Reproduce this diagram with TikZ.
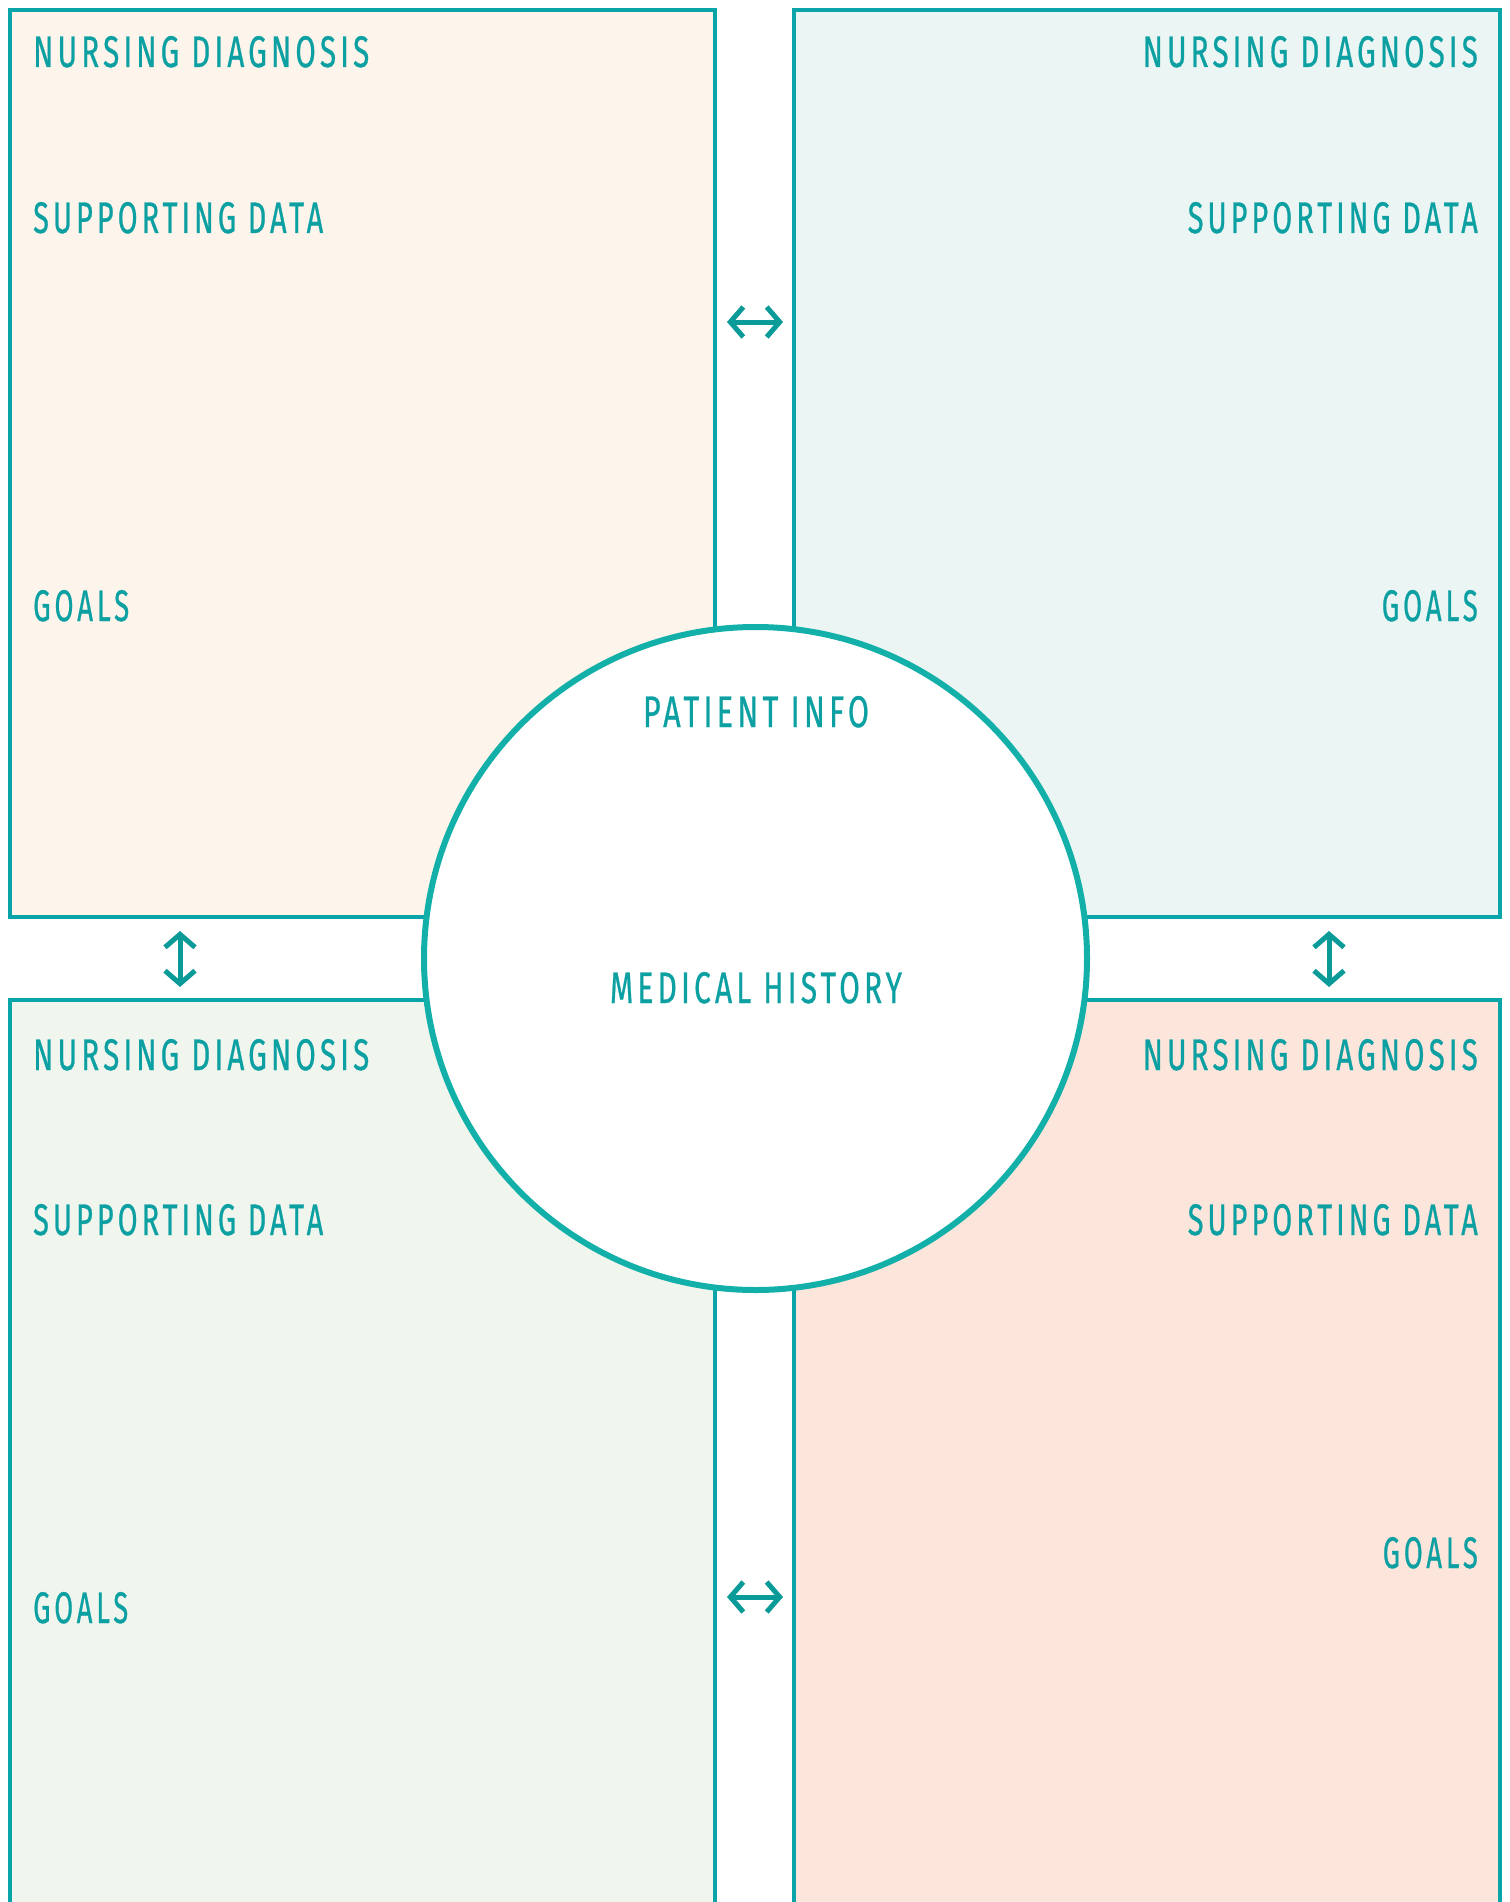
\documentclass[tikz,border=0pt]{standalone}
\usepackage{fontspec}
\usepackage{graphicx}
\usetikzlibrary{arrows.meta}
\newfontfamily\lblfont[LetterSpace=14,FakeBold=0.8]{Fira Sans}
\definecolor{tealline}{HTML}{0AA5A8}
\definecolor{tealcirc}{HTML}{12B0A9}
\definecolor{tealtext}{HTML}{0CA0A2}
\definecolor{tealarrow}{HTML}{0A9A98}
\definecolor{fillA}{HTML}{FDF5EB}
\definecolor{fillB}{HTML}{EBF5F3}
\definecolor{fillC}{HTML}{F0F5EE}
\definecolor{fillD}{HTML}{FCE6DC}
\newcommand\lab[2]{\resizebox{#1pt}{31pt}{\lblfont #2}}
\tikzset{
  panel/.style={draw=tealline, line width=4pt},
  lbl/.style={inner sep=0pt, text=tealtext},
  linker/.style={draw=tealarrow, line width=5pt, {Straight Barb[length=13pt,width=30pt,line width=5pt]}-{Straight Barb[length=13pt,width=30pt,line width=5pt]}}
}
\begin{document}
\begin{tikzpicture}[x=1pt,y=-1pt]
\useasboundingbox (0,0) rectangle (1509,1902);
\fill[white] (0,0) rectangle (1509,1902);
\begin{scope}
\clip (0,0) rectangle (1509,1902);
\draw[panel, fill=fillA] (10,10) rectangle (715,917);
\draw[panel, fill=fillB] (794,10) rectangle (1500,917);
\draw[panel, fill=fillC] (10,1000) rectangle (715,1960);
\draw[panel, fill=fillD] (794,1000) rectangle (1500,1960);
\end{scope}
\node[circle, draw=tealcirc, fill=white, line width=6pt, minimum size=663pt, inner sep=0pt] (center) at (755.5,958.5) {};

% top-left
\node[lbl, anchor=base west] (tlnd) at (33,67) {\lab{336}{NURSING DIAGNOSIS}};
\node[lbl, anchor=base west] (tlsd) at (33,233) {\lab{290}{SUPPORTING DATA}};
\node[lbl, anchor=base west] (tlg) at (33,621) {\lab{96}{GOALS}};
% top-right
\node[lbl, anchor=base east] (trnd) at (1478,67) {\lab{335}{NURSING DIAGNOSIS}};
\node[lbl, anchor=base east] (trsd) at (1478,233) {\lab{290}{SUPPORTING DATA}};
\node[lbl, anchor=base east] (trg) at (1478,621) {\lab{96}{GOALS}};
% bottom-left
\node[lbl, anchor=base west] (blnd) at (33,1070) {\lab{336}{NURSING DIAGNOSIS}};
\node[lbl, anchor=base west] (blsd) at (33,1235) {\lab{290}{SUPPORTING DATA}};
\node[lbl, anchor=base west] (blg) at (33,1623) {\lab{95}{GOALS}};
% bottom-right
\node[lbl, anchor=base east] (brnd) at (1478,1070) {\lab{335}{NURSING DIAGNOSIS}};
\node[lbl, anchor=base east] (brsd) at (1478,1235) {\lab{290}{SUPPORTING DATA}};
\node[lbl, anchor=base east] (brg) at (1478,1568) {\lab{95}{GOALS}};
% centre
\node[lbl, anchor=base] (pinfo) at (756,727) {\lab{226}{PATIENT INFO}};
\node[lbl, anchor=base] (mhist) at (756,1003) {\lab{292}{MEDICAL HISTORY}};

% arrows
\coordinate (a1s) at (727,322); \coordinate (a1e) at (783,322);
\coordinate (a2s) at (727,1597); \coordinate (a2e) at (783,1597);
\coordinate (a3s) at (180,931); \coordinate (a3e) at (180,987);
\coordinate (a4s) at (1329,931); \coordinate (a4e) at (1329,987);
\draw[linker] (a1s) -- (a1e);
\draw[linker] (a2s) -- (a2e);
\draw[linker] (a3s) -- (a3e);
\draw[linker] (a4s) -- (a4e);
\end{tikzpicture}
\end{document}
